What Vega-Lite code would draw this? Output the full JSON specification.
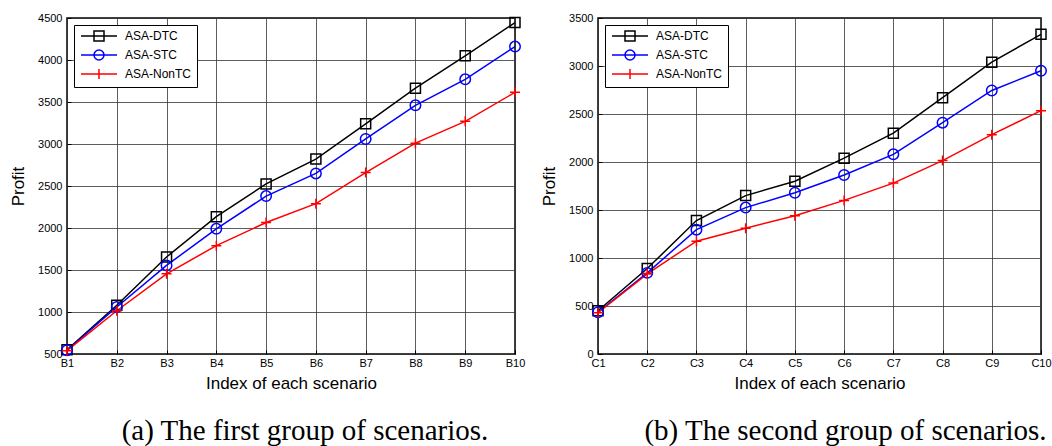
{
  "$schema": "https://vega.github.io/schema/vega-lite/v6.json",
  "padding": {"top": 11, "left": 8, "right": 0, "bottom": 0},
  "background": "white",
  "config": {
    "font": "Liberation Sans",
    "view": {"stroke": "black", "strokeWidth": 1.5},
    "axis": {"labelFontSize": 11, "labelColor": "black", "titleFontSize": 17, "titleFontWeight": "normal", "titleColor": "black", "gridColor": "#333", "gridWidth": 0.8, "gridOpacity": 1, "domain": false, "tickColor": "black", "tickSize": -4},
    "axisX": {"labelPadding": 7, "titlePadding": 7},
    "axisY": {"labelPadding": 9, "format": "d", "titlePadding": 10},
    "legend": {"orient": "top-left", "offset": 7, "title": null, "strokeColor": "black", "fillColor": "white", "padding": 5, "cornerRadius": 0, "labelFontSize": 12, "labelColor": "black", "symbolSize": 100, "symbolStrokeWidth": 1.5, "symbolOffset": 14, "labelOffset": 20, "rowPadding": 3},
    "title": {"font": "Liberation Serif", "fontSize": 29, "fontWeight": "normal", "orient": "bottom", "offset": 26, "color": "black"},
    "concat": {"spacing": 13}
  },
  "hconcat": [
    {
      "width": 448, "height": 336,
      "title": {"text": "(a) The first group of scenarios.", "dx": 14},
      "data": {"values": [
        {"s":"B1","i":1,"series":"ASA-DTC","profit":550},
        {"s":"B2","i":2,"series":"ASA-DTC","profit":1080},
        {"s":"B3","i":3,"series":"ASA-DTC","profit":1655},
        {"s":"B4","i":4,"series":"ASA-DTC","profit":2135},
        {"s":"B5","i":5,"series":"ASA-DTC","profit":2525},
        {"s":"B6","i":6,"series":"ASA-DTC","profit":2820},
        {"s":"B7","i":7,"series":"ASA-DTC","profit":3240},
        {"s":"B8","i":8,"series":"ASA-DTC","profit":3665},
        {"s":"B9","i":9,"series":"ASA-DTC","profit":4050},
        {"s":"B10","i":10,"series":"ASA-DTC","profit":4445},
        {"s":"B1","i":1,"series":"ASA-STC","profit":545},
        {"s":"B2","i":2,"series":"ASA-STC","profit":1060},
        {"s":"B3","i":3,"series":"ASA-STC","profit":1555},
        {"s":"B4","i":4,"series":"ASA-STC","profit":1990},
        {"s":"B5","i":5,"series":"ASA-STC","profit":2380},
        {"s":"B6","i":6,"series":"ASA-STC","profit":2650},
        {"s":"B7","i":7,"series":"ASA-STC","profit":3060},
        {"s":"B8","i":8,"series":"ASA-STC","profit":3460},
        {"s":"B9","i":9,"series":"ASA-STC","profit":3770},
        {"s":"B10","i":10,"series":"ASA-STC","profit":4160},
        {"s":"B1","i":1,"series":"ASA-NonTC","profit":540},
        {"s":"B2","i":2,"series":"ASA-NonTC","profit":1015},
        {"s":"B3","i":3,"series":"ASA-NonTC","profit":1455},
        {"s":"B4","i":4,"series":"ASA-NonTC","profit":1790},
        {"s":"B5","i":5,"series":"ASA-NonTC","profit":2065},
        {"s":"B6","i":6,"series":"ASA-NonTC","profit":2290},
        {"s":"B7","i":7,"series":"ASA-NonTC","profit":2660},
        {"s":"B8","i":8,"series":"ASA-NonTC","profit":3010},
        {"s":"B9","i":9,"series":"ASA-NonTC","profit":3270},
        {"s":"B10","i":10,"series":"ASA-NonTC","profit":3615}
      ]},
      "encoding": {
        "x": {"field": "s", "type": "ordinal", "scale": {"type": "point", "padding": 0}, "sort": ["B1","B2","B3","B4","B5","B6","B7","B8","B9","B10"], "axis": {"title": "Index of each scenario", "labelAngle": 0, "grid": true}},
        "y": {"field": "profit", "type": "quantitative", "scale": {"domain": [500, 4500], "nice": false, "zero": false}, "axis": {"title": "Profit", "values": [500,1000,1500,2000,2500,3000,3500,4000,4500]}},
        "color": {"field": "series", "type": "nominal", "scale": {"domain": ["ASA-DTC","ASA-STC","ASA-NonTC"], "range": ["#000000","#0000ff","#ff0000"]},
          "legend": {"encode": {"symbols": {
            "enter": {"shape": {"signal": "datum.value === 'ASA-DTC' ? 'M-3.6,0H3.6M-1,-1H1V1H-1Z' : datum.value === 'ASA-STC' ? 'M-3.6,0H3.6M-1,0A1,1,0,1,1,1,0A1,1,0,1,1,-1,0' : 'M-3.6,0H3.6M0,-1V1'"}},
            "update": {"shape": {"signal": "datum.value === 'ASA-DTC' ? 'M-3.6,0H3.6M-1,-1H1V1H-1Z' : datum.value === 'ASA-STC' ? 'M-3.6,0H3.6M-1,0A1,1,0,1,1,1,0A1,1,0,1,1,-1,0' : 'M-3.6,0H3.6M0,-1V1'"}, "fill": {"value": "transparent"}, "strokeWidth": {"value": 1.5}}}}}},
        "order": {"field": "i", "type": "quantitative"}
      },
      "layer": [
        {"mark": {"type": "line", "strokeWidth": 1.5}},
        {"transform": [{"filter": "datum.series === 'ASA-DTC'"}], "mark": {"type": "point", "shape": "square", "filled": false, "size": 100, "strokeWidth": 1.5, "opacity": 1}},
        {"transform": [{"filter": "datum.series === 'ASA-STC'"}], "mark": {"type": "point", "shape": "circle", "filled": false, "size": 110, "strokeWidth": 1.5, "opacity": 1}},
        {"transform": [{"filter": "datum.series === 'ASA-NonTC'"}], "mark": {"type": "point", "shape": "M-1,0H1M0,-1V1", "filled": false, "size": 100, "strokeWidth": 1.5, "opacity": 1}}
      ]
    },
    {
      "width": 443, "height": 336,
      "title": {"text": "(b) The second group of scenarios.", "dx": 26},
      "data": {"values": [
        {"s":"C1","i":1,"series":"ASA-DTC","profit":450},
        {"s":"C2","i":2,"series":"ASA-DTC","profit":890},
        {"s":"C3","i":3,"series":"ASA-DTC","profit":1390},
        {"s":"C4","i":4,"series":"ASA-DTC","profit":1650},
        {"s":"C5","i":5,"series":"ASA-DTC","profit":1800},
        {"s":"C6","i":6,"series":"ASA-DTC","profit":2040},
        {"s":"C7","i":7,"series":"ASA-DTC","profit":2300},
        {"s":"C8","i":8,"series":"ASA-DTC","profit":2670},
        {"s":"C9","i":9,"series":"ASA-DTC","profit":3040},
        {"s":"C10","i":10,"series":"ASA-DTC","profit":3330},
        {"s":"C1","i":1,"series":"ASA-STC","profit":435},
        {"s":"C2","i":2,"series":"ASA-STC","profit":845},
        {"s":"C3","i":3,"series":"ASA-STC","profit":1295},
        {"s":"C4","i":4,"series":"ASA-STC","profit":1525},
        {"s":"C5","i":5,"series":"ASA-STC","profit":1680},
        {"s":"C6","i":6,"series":"ASA-STC","profit":1865},
        {"s":"C7","i":7,"series":"ASA-STC","profit":2080},
        {"s":"C8","i":8,"series":"ASA-STC","profit":2410},
        {"s":"C9","i":9,"series":"ASA-STC","profit":2745},
        {"s":"C10","i":10,"series":"ASA-STC","profit":2950},
        {"s":"C1","i":1,"series":"ASA-NonTC","profit":430},
        {"s":"C2","i":2,"series":"ASA-NonTC","profit":835},
        {"s":"C3","i":3,"series":"ASA-NonTC","profit":1175},
        {"s":"C4","i":4,"series":"ASA-NonTC","profit":1310},
        {"s":"C5","i":5,"series":"ASA-NonTC","profit":1440},
        {"s":"C6","i":6,"series":"ASA-NonTC","profit":1600},
        {"s":"C7","i":7,"series":"ASA-NonTC","profit":1780},
        {"s":"C8","i":8,"series":"ASA-NonTC","profit":2015},
        {"s":"C9","i":9,"series":"ASA-NonTC","profit":2285},
        {"s":"C10","i":10,"series":"ASA-NonTC","profit":2535}
      ]},
      "encoding": {
        "x": {"field": "s", "type": "ordinal", "scale": {"type": "point", "padding": 0}, "sort": ["C1","C2","C3","C4","C5","C6","C7","C8","C9","C10"], "axis": {"title": "Index of each scenario", "labelAngle": 0, "grid": true}},
        "y": {"field": "profit", "type": "quantitative", "scale": {"domain": [0, 3500], "nice": false}, "axis": {"title": "Profit", "values": [0,500,1000,1500,2000,2500,3000,3500]}},
        "color": {"field": "series", "type": "nominal", "scale": {"domain": ["ASA-DTC","ASA-STC","ASA-NonTC"], "range": ["#000000","#0000ff","#ff0000"]},
          "legend": {"encode": {"symbols": {
            "enter": {"shape": {"signal": "datum.value === 'ASA-DTC' ? 'M-3.6,0H3.6M-1,-1H1V1H-1Z' : datum.value === 'ASA-STC' ? 'M-3.6,0H3.6M-1,0A1,1,0,1,1,1,0A1,1,0,1,1,-1,0' : 'M-3.6,0H3.6M0,-1V1'"}},
            "update": {"shape": {"signal": "datum.value === 'ASA-DTC' ? 'M-3.6,0H3.6M-1,-1H1V1H-1Z' : datum.value === 'ASA-STC' ? 'M-3.6,0H3.6M-1,0A1,1,0,1,1,1,0A1,1,0,1,1,-1,0' : 'M-3.6,0H3.6M0,-1V1'"}, "fill": {"value": "transparent"}, "strokeWidth": {"value": 1.5}}}}}},
        "order": {"field": "i", "type": "quantitative"}
      },
      "layer": [
        {"mark": {"type": "line", "strokeWidth": 1.5}},
        {"transform": [{"filter": "datum.series === 'ASA-DTC'"}], "mark": {"type": "point", "shape": "square", "filled": false, "size": 100, "strokeWidth": 1.5, "opacity": 1}},
        {"transform": [{"filter": "datum.series === 'ASA-STC'"}], "mark": {"type": "point", "shape": "circle", "filled": false, "size": 110, "strokeWidth": 1.5, "opacity": 1}},
        {"transform": [{"filter": "datum.series === 'ASA-NonTC'"}], "mark": {"type": "point", "shape": "M-1,0H1M0,-1V1", "filled": false, "size": 100, "strokeWidth": 1.5, "opacity": 1}}
      ]
    }
  ],
  "resolve": {"scale": {"color": "independent"}, "legend": {"color": "independent"}}
}
